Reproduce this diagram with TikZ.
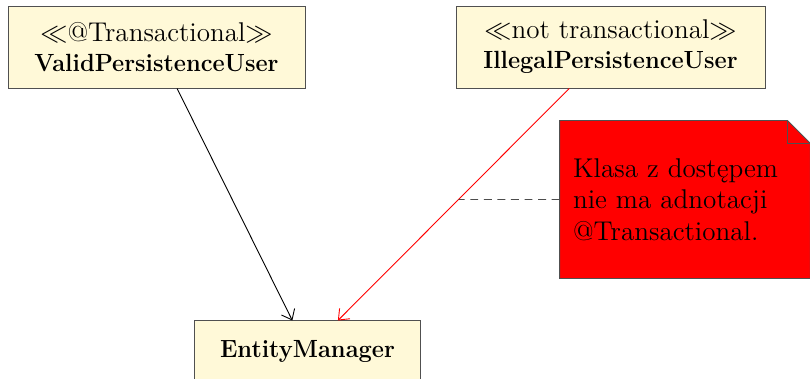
\documentclass[tikz,border=0pt]{standalone}
\usepackage{amsmath,amssymb}
\usepackage{graphicx}
\usepackage{fontspec}
\usepackage{tikz}
\usetikzlibrary{arrows.meta,calc,backgrounds}
\definecolor{classfill}{HTML}{FFF9D8}
\definecolor{umlborder}{HTML}{505050}
\definecolor{notefill}{HTML}{FF0000}
\newcommand{\clsname}[1]{\scalebox{0.95}[1]{\fontsize{11}{13}\selectfont\bfseries #1}}
\tikzset{
  umlclass/.style={draw=umlborder,fill=classfill,align=center,inner sep=0pt,font=\normalsize},
  umlnote/.style={align=left,inner xsep=5.75pt,inner ysep=0pt,font=\large},
  dep/.style={-{Straight Barb[length=4pt,width=6.5pt]},black},
  baddep/.style={dep,red},
  notelink/.style={dash pattern=on 3.5pt off 2.5pt,black!70},
}

\begin{document}
\begin{tikzpicture}[x=0.4425pt,y=-0.4425pt]
  \useasboundingbox (0,0) rectangle (810,379);
  \node[umlclass,minimum width=131.4pt,minimum height=36.3pt] (validUser) at (156.5,47)
    {{\large$\ll$@Transactional$\gg$}\\[1.2pt]\clsname{ValidPersistenceUser}};
  \node[umlclass,minimum width=136.7pt,minimum height=36.3pt] (illegalUser) at (610.5,47)
    {{\large$\ll$not transactional$\gg$}\\[1.2pt]\clsname{IllegalPersistenceUser}};
  \node[umlclass,minimum width=100.4pt,minimum height=26.6pt] (em) at (307.5,351)
    {\clsname{EntityManager}};
  \node[umlnote,minimum width=110.6pt,minimum height=69.5pt,text width=99.1pt] (note) at (685,199.5)
    {Klasa z dostępem\\nie ma adnotacji\\@Transactional.};
  \begin{scope}[on background layer]
    \draw[umlborder,fill=notefill] (note.north west) -- ($(note.north east)+(-23,0)$)
      -- ($(note.north east)+(0,23)$) -- (note.south east) -- (note.south west) -- cycle;
    \draw[umlborder] ($(note.north east)+(-23,0)$) |- ($(note.north east)+(0,23)$);
  \end{scope}
  \draw[dep] (validUser) -- (em);
  \draw[baddep] (illegalUser) -- (em);
  \coordinate (hit) at (intersection of illegalUser--em and note.west--note.east);
  \draw[notelink] (note.west) -- (hit);
\end{tikzpicture}
\end{document}
